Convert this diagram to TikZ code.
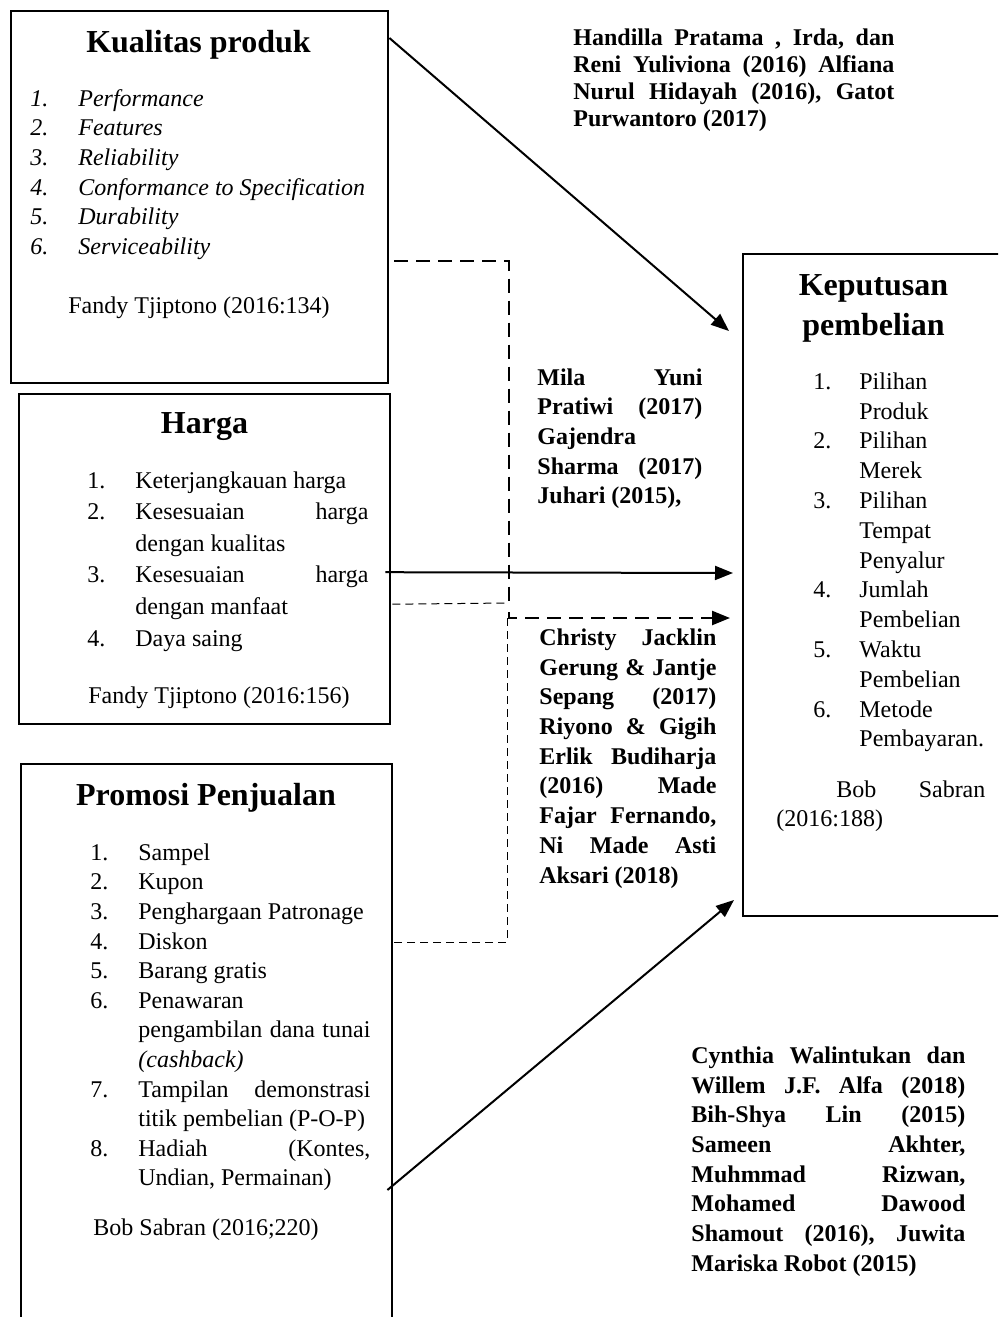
\documentclass[tikz,border=0pt]{standalone}
\usepackage{fontspec}
\setmainfont{Liberation Serif}
\usetikzlibrary{arrows.meta,positioning,calc}
\setlength{\parindent}{0pt}
\hyphenpenalty=10000
\exhyphenpenalty=10000
\tolerance=10000
\frenchspacing
\tikzset{
  every node/.style={
    font=\fontsize{12}{14.8}\selectfont
  },
  kotak/.style={
    shape=rectangle,
    draw,
    line width=1.2pt,
    anchor=north west,
    inner sep=0pt
  },
  judul/.style={
    font=\fontsize{16}{20}\selectfont\bfseries,
    anchor=base,
    inner sep=0pt
  },
  daftar/.style={
    anchor=north west,
    inner sep=0pt,
    text width=#1,
    align=justify
  },
  sumber/.style={
    anchor=base west,
    inner sep=0pt
  },
  rujukan/.style={
    anchor=north west,
    inner sep=0pt,
    text width=#1,
    align=justify,
    font=\fontsize{12}{14.85}\selectfont\bfseries
  },
  panah/.style={
    line width=1pt,
    -{Triangle[length=9pt,width=7pt]}
  },
  putus tebal/.style={
    line width=1.2pt,
    dash pattern=on 7pt off 4pt
  },
  putus tipis/.style={
    line width=0.5pt,
    dash pattern=on 4pt off 2.5pt
  }
}
% one numbered entry of a box list
\newcommand{\butir}[2]{\par\hangindent=24pt\hangafter=1\noindent\makebox[24pt][l]{\strut#1}#2}

\begin{document}
\begin{tikzpicture}[x=0.5pt,y=-0.5pt]
  \useasboundingbox (0,0) rectangle (998,1317);
  \clip (0,0) rectangle (998,1317);

  % boxes
  \node[kotak, minimum width=188.5pt, minimum height=186pt] (kualitas) at (10,10) {};
  \node[kotak, minimum width=185.5pt, minimum height=165pt] (harga) at (18,393) {};
  \node[kotak, minimum width=185.5pt, minimum height=280pt] (promosi) at (20,763) {};
  \node[kotak, minimum width=130pt, minimum height=331pt] (keputusan) at (742,253) {};

  % Kualitas produk
  \node[judul] (judulKualitas) at (198.5,52) {Kualitas produk};
  \node[daftar=175pt, font=\fontsize{12}{14.8}\selectfont\itshape] (daftarKualitas) at (30,76.3) {%
    \butir{1.}{Performance}
    \butir{2.}{Features}
    \butir{3.}{Reliability}
    \butir{4.}{Conformance to Specification}
    \butir{5.}{Durability}
    \butir{6.}{Serviceability}\par};
  \node[sumber] (sumberKualitas) at (68,313) {Fandy Tjiptono (2016:134)};

  % Harga
  \node[judul] (judulHarga) at (204.5,433) {Harga};
  \node[daftar=140.5pt, font=\fontsize{12}{15.8}\selectfont] (daftarHarga) at (87,456) {%
    \butir{1.}{Keterjangkauan harga}
    \butir{2.}{Kesesuaian harga\linebreak dengan kualitas}
    \butir{3.}{Kesesuaian harga\linebreak dengan manfaat}
    \butir{4.}{Daya saing}\par};
  \node[sumber] (sumberHarga) at (88,703) {Fandy Tjiptono (2016:156)};

  % Promosi Penjualan
  \node[judul] (judulPromosi) at (206,805) {Promosi Penjualan};
  \node[daftar=140pt] (daftarPromosi) at (90,830.3) {%
    \butir{1.}{Sampel}
    \butir{2.}{Kupon}
    \butir{3.}{Penghargaan Patronage}
    \butir{4.}{Diskon}
    \butir{5.}{Barang gratis}
    \butir{6.}{Penawaran\newline pengambilan dana tunai\linebreak \textit{(cashback)}}
    \butir{7.}{Tampilan demonstrasi\linebreak titik pembelian (P-O-P)}
    \butir{8.}{Hadiah (Kontes,\linebreak Undian, Permainan)}\par};
  \node[sumber] (sumberPromosi) at (93,1235) {Bob Sabran (2016;220)};

  % Keputusan pembelian
  \node[judul, anchor=north, align=center] (judulKeputusan) at (873.5,267) {\strut Keputusan\\pembelian};
  \node[anchor=north west, inner sep=0pt, align=left, font=\fontsize{12}{14.9}\selectfont] (daftarKeputusan) at (813,368) {%
    \makebox[23pt][l]{\strut 1.}Pilihan\\ \hspace*{23pt}Produk\\
    \makebox[23pt][l]{2.}Pilihan\\ \hspace*{23pt}Merek\\
    \makebox[23pt][l]{3.}Pilihan\\ \hspace*{23pt}Tempat\\ \hspace*{23pt}Penyalur\\
    \makebox[23pt][l]{4.}Jumlah\\ \hspace*{23pt}Pembelian\\
    \makebox[23pt][l]{5.}Waktu\\ \hspace*{23pt}Pembelian\\
    \makebox[23pt][l]{6.}Metode\\ \hspace*{23pt}Pembayaran.};
  \node[daftar=104.5pt, font=\fontsize{12}{14.5}\selectfont] (sumberKeputusan) at (776,776.7) {%
    \strut\hspace*{30pt}Bob Sabran\linebreak (2016:188)};

  % references beside the arrows
  \node[rujukan=160.5pt, font=\fontsize{12}{13.5}\selectfont\bfseries] (refKualitas) at (573,26.4) {%
    \strut Handilla Pratama , Irda, dan\linebreak Reni Yuliviona (2016) Alfiana\linebreak
    Nurul Hidayah (2016), Gatot\linebreak Purwantoro (2017)};
  \node[rujukan=82.5pt] (refHarga) at (537,364) {%
    \strut Mila Yuni\linebreak Pratiwi (2017)\linebreak Gajendra\newline
    Sharma (2017)\linebreak Juhari (2015),};
  \node[rujukan=88.5pt] (refSimultan) at (539,624.3) {%
    \strut Christy Jacklin\linebreak Gerung \& Jantje\linebreak Sepang (2017)\linebreak
    Riyono \& Gigih\linebreak Erlik Budiharja\linebreak (2016) Made\linebreak
    Fajar Fernando,\linebreak Ni Made Asti\linebreak Aksari (2018)};
  \node[rujukan=137pt] (refPromosi) at (691,1042.2) {%
    \strut Cynthia Walintukan dan\linebreak Willem J.F. Alfa (2018)\linebreak
    Bih-Shya Lin (2015)\linebreak Sameen Akhter,\linebreak Muhmmad Rizwan,\linebreak
    Mohamed Dawood\linebreak Shamout (2016), Juwita\linebreak Mariska Robot (2015)};

  % arrow ends and joints
  \coordinate (ujungKualitas) at (729,331);
  \coordinate (ujungHarga) at (733,573);
  \coordinate (ujungSimultan) at (730,618);
  \coordinate (ujungPromosi) at (734,900);
  \coordinate (simpulAtas) at (509,603);
  \coordinate (simpulTengah) at (509,612);
  \coordinate (simpulBawah) at (507,618);

  % partial effects
  \draw[panah] ($(kualitas.north east)+(0,28)$) -- (ujungKualitas);
  \draw[panah] ($(harga.east)+(-6,13)$) -- (ujungHarga);
  \draw[panah] ($(promosi.north east)+(-6,427)$) -- (ujungPromosi);

  % simultaneous effect
  \draw[putus tebal] ($(kualitas.east)+(5,64)$) -| (simpulAtas);
  \draw[putus tipis] ($(harga.east)+(1,45)$) -- (simpulAtas);
  \draw[putus tebal, -{Triangle[length=9pt,width=7pt]}] (simpulTengah) |- (ujungSimultan);
  \draw[putus tipis] (simpulBawah) |- ($(promosi.north east)+(1,179)$);
\end{tikzpicture}
\end{document}
